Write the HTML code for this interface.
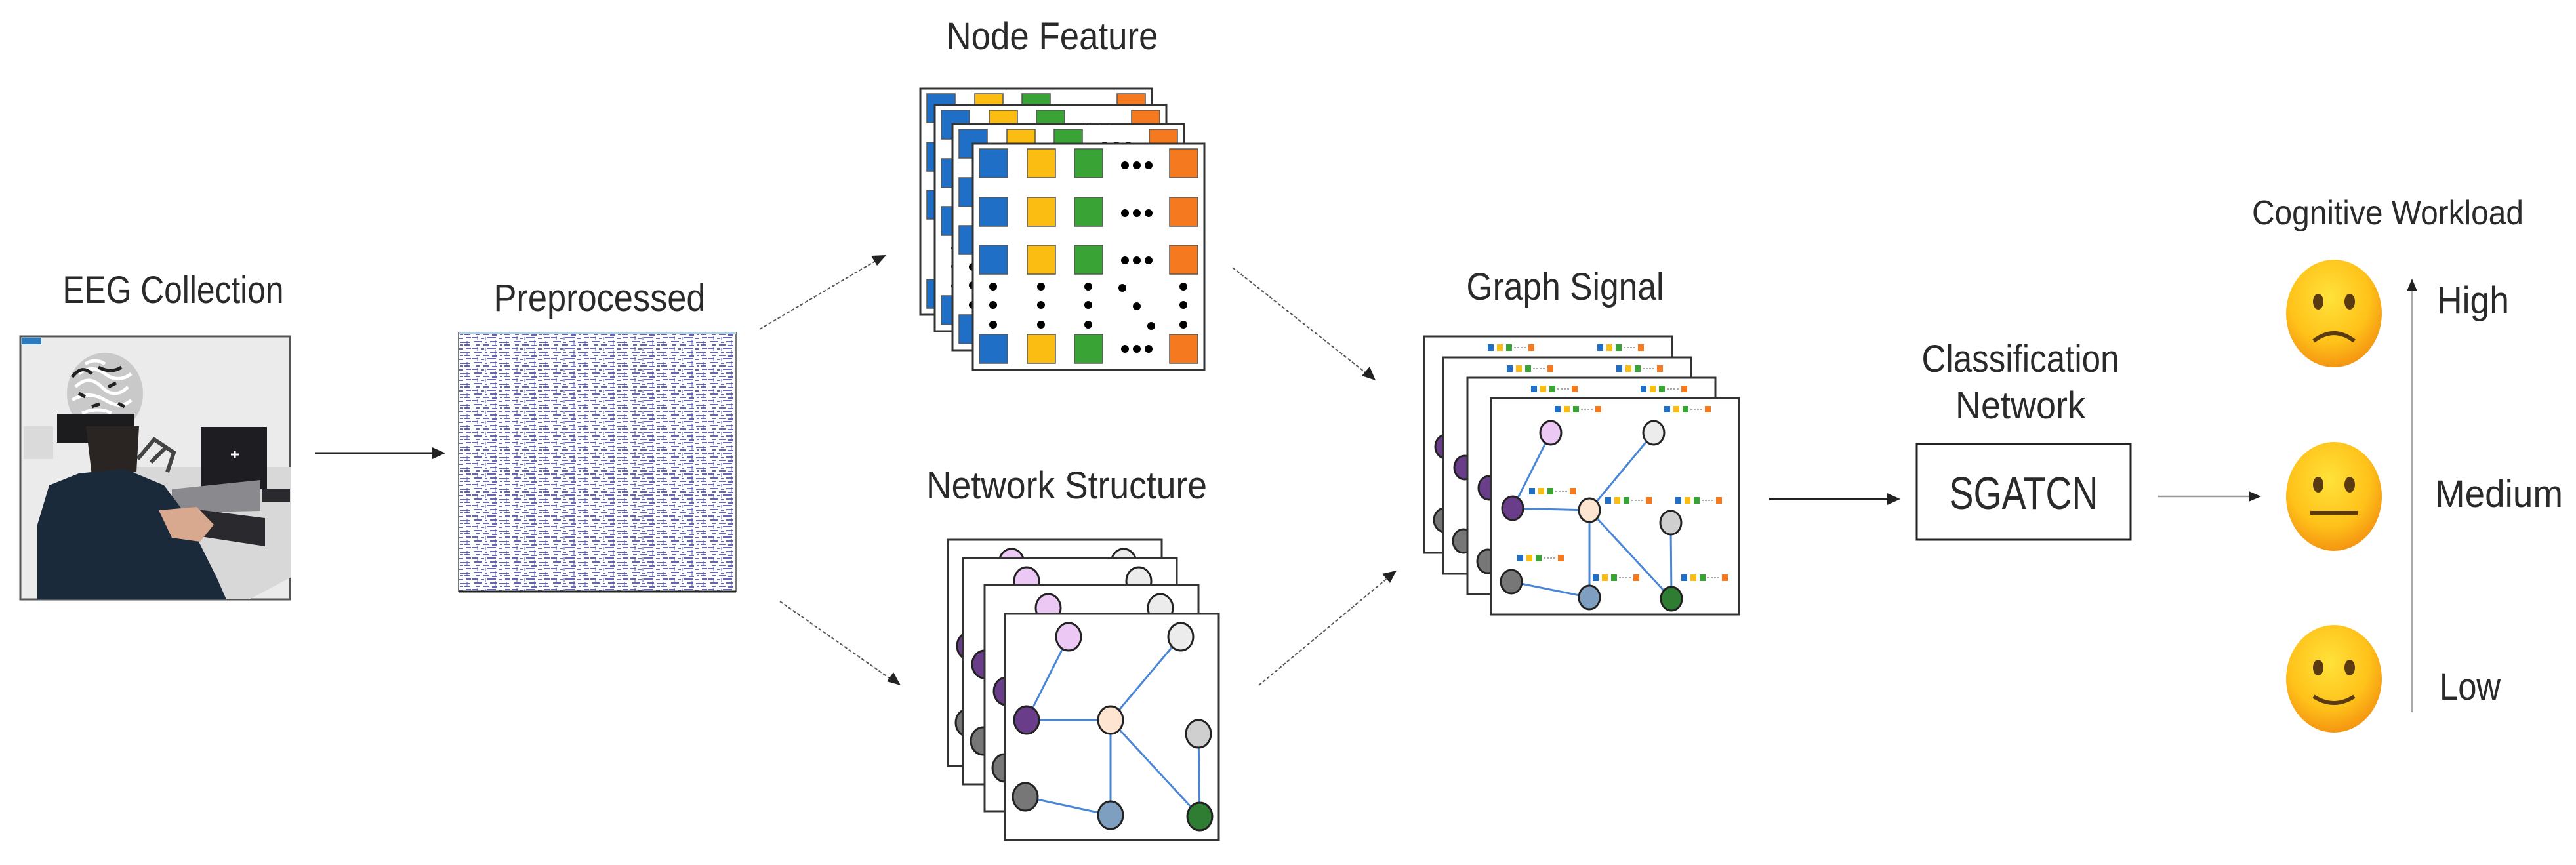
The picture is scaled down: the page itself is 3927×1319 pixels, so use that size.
<!DOCTYPE html>
<html><head><meta charset="utf-8"><style>
html,body{margin:0;padding:0;background:#fff;}
svg{display:block;}
text{font-family:"Liberation Sans",sans-serif;fill:#2a2a2a;}
</style></head><body>
<svg width="3927" height="1319" viewBox="0 0 3927 1319" xmlns="http://www.w3.org/2000/svg">
<defs>
<pattern id="eeg" width="60" height="16" patternUnits="userSpaceOnUse">
<rect width="60" height="16" fill="#fff"/>
<path d="M0 3 h9 M13 4 h5 M22 3 h14 M40 4 h6 M50 3 h8 M3 9 h12 M19 10 h4 M27 9 h10 M41 10 h15 M5 14 h6 M16 14 h10 M30 15 h8 M42 14 h4 M48 14 h9" stroke="#4a4aa8" stroke-width="2" opacity="0.85"/>
<path d="M8 1 v6 M35 6 v8 M52 8 v7 M20 2 v5" stroke="#4a4aa8" stroke-width="1.5" opacity="0.6"/>
</pattern>
<radialGradient id="face" cx="45%" cy="35%" r="70%">
<stop offset="0" stop-color="#ffe23a"/><stop offset="0.6" stop-color="#ffc21a"/><stop offset="1" stop-color="#f28c0f"/>
</radialGradient>
<g id="nf">
<rect x="0" y="0" width="353" height="345" fill="#fff" stroke="#333" stroke-width="3"/>
<g stroke="#555" stroke-width="1.5">
<rect x="10" y="8" width="43" height="44" fill="#1f6fc6"/><rect x="83" y="8" width="43" height="44" fill="#fbbd12"/><rect x="155" y="8" width="43" height="44" fill="#3aa336"/><rect x="300" y="8" width="43" height="44" fill="#f5791f"/>
<rect x="10" y="82" width="43" height="44" fill="#1f6fc6"/><rect x="83" y="82" width="43" height="44" fill="#fbbd12"/><rect x="155" y="82" width="43" height="44" fill="#3aa336"/><rect x="300" y="82" width="43" height="44" fill="#f5791f"/>
<rect x="10" y="155" width="43" height="44" fill="#1f6fc6"/><rect x="83" y="155" width="43" height="44" fill="#fbbd12"/><rect x="155" y="155" width="43" height="44" fill="#3aa336"/><rect x="300" y="155" width="43" height="44" fill="#f5791f"/>
<rect x="10" y="291" width="43" height="44" fill="#1f6fc6"/><rect x="83" y="291" width="43" height="44" fill="#fbbd12"/><rect x="155" y="291" width="43" height="44" fill="#3aa336"/><rect x="300" y="291" width="43" height="44" fill="#f5791f"/>
</g>
<g fill="#000">
<circle cx="232" cy="33" r="6"/><circle cx="250" cy="33" r="6"/><circle cx="268" cy="33" r="6"/>
<circle cx="232" cy="106" r="6"/><circle cx="250" cy="106" r="6"/><circle cx="268" cy="106" r="6"/>
<circle cx="232" cy="178" r="6"/><circle cx="250" cy="178" r="6"/><circle cx="268" cy="178" r="6"/>
<circle cx="232" cy="313" r="6"/><circle cx="250" cy="313" r="6"/><circle cx="268" cy="313" r="6"/>
<circle cx="31" cy="218" r="6"/><circle cx="31" cy="246" r="6"/><circle cx="31" cy="276" r="6"/>
<circle cx="104" cy="218" r="6"/><circle cx="104" cy="246" r="6"/><circle cx="104" cy="276" r="6"/>
<circle cx="176" cy="218" r="6"/><circle cx="176" cy="246" r="6"/><circle cx="176" cy="276" r="6"/>
<circle cx="228" cy="220" r="6"/><circle cx="250" cy="248" r="6"/><circle cx="272" cy="278" r="6"/>
<circle cx="321" cy="218" r="6"/><circle cx="321" cy="246" r="6"/><circle cx="321" cy="276" r="6"/>
</g>
</g>
<g id="ns">
<rect x="0" y="0" width="326" height="345" fill="#fff" stroke="#333" stroke-width="3"/>
<g stroke="#4a86d8" stroke-width="3">
<line x1="97" y1="35" x2="33" y2="162"/><line x1="33" y1="162" x2="161" y2="162"/><line x1="268" y1="35" x2="161" y2="162"/>
<line x1="161" y1="162" x2="161" y2="307"/><line x1="161" y1="162" x2="297" y2="309"/><line x1="295" y1="183" x2="297" y2="309"/><line x1="31" y1="279" x2="161" y2="307"/>
</g>
<g stroke="#222" stroke-width="3">
<ellipse cx="97" cy="35" rx="19" ry="21" fill="#ecc8f5"/><ellipse cx="268" cy="35" rx="19" ry="21" fill="#ececec"/>
<ellipse cx="33" cy="162" rx="19" ry="21" fill="#6a3d8a"/><ellipse cx="161" cy="162" rx="19" ry="21" fill="#fde5d2"/>
<ellipse cx="295" cy="183" rx="19" ry="21" fill="#cfcfcf"/><ellipse cx="31" cy="279" rx="19" ry="21" fill="#777"/>
<ellipse cx="161" cy="307" rx="19" ry="21" fill="#7e9fbf"/><ellipse cx="297" cy="309" rx="19" ry="21" fill="#2e7d32"/>
</g>
</g>
<g id="st">
<rect x="0" y="0" width="9" height="10" fill="#1f6fc6"/><rect x="14" y="0" width="9" height="10" fill="#fbbd12"/><rect x="28" y="0" width="9" height="10" fill="#3aa336"/>
<path d="M40 5 h20" stroke="#aaa" stroke-width="2" stroke-dasharray="3 2"/><rect x="62" y="0" width="9" height="10" fill="#f5791f"/>
</g>
<g id="gs">
<rect x="0" y="0" width="378" height="330" fill="#fff" stroke="#333" stroke-width="3"/>
<g stroke="#4a86d8" stroke-width="3">
<line x1="91" y1="53" x2="33" y2="168"/><line x1="33" y1="168" x2="150" y2="171"/><line x1="248" y1="53" x2="150" y2="171"/>
<line x1="150" y1="171" x2="150" y2="304"/><line x1="150" y1="171" x2="275" y2="306"/><line x1="274" y1="190" x2="275" y2="306"/><line x1="31" y1="280" x2="150" y2="304"/>
</g>
<g stroke="#222" stroke-width="3">
<ellipse cx="91" cy="53" rx="16" ry="18" fill="#ecc8f5"/><ellipse cx="248" cy="53" rx="16" ry="18" fill="#ececec"/>
<ellipse cx="33" cy="168" rx="16" ry="18" fill="#6a3d8a"/><ellipse cx="150" cy="171" rx="16" ry="18" fill="#fde5d2"/>
<ellipse cx="274" cy="190" rx="16" ry="18" fill="#cfcfcf"/><ellipse cx="31" cy="280" rx="16" ry="18" fill="#777"/>
<ellipse cx="150" cy="304" rx="16" ry="18" fill="#7e9fbf"/><ellipse cx="275" cy="306" rx="16" ry="18" fill="#2e7d32"/>
</g>
<use href="#st" x="97" y="12"/><use href="#st" x="264" y="12"/><use href="#st" x="58" y="137"/><use href="#st" x="174" y="151"/>
<use href="#st" x="281" y="151"/><use href="#st" x="40" y="239"/><use href="#st" x="155" y="269"/><use href="#st" x="290" y="269"/>
</g>
</defs>

<text x="264" y="462" font-size="58" text-anchor="middle" textLength="337" lengthAdjust="spacingAndGlyphs">EEG Collection</text>
<text x="914" y="474" font-size="58" text-anchor="middle" textLength="323" lengthAdjust="spacingAndGlyphs">Preprocessed</text>
<text x="1604" y="75" font-size="58" text-anchor="middle" textLength="323" lengthAdjust="spacingAndGlyphs">Node Feature</text>
<text x="1626" y="760" font-size="58" text-anchor="middle" textLength="428" lengthAdjust="spacingAndGlyphs">Network Structure</text>
<text x="2386" y="457" font-size="58" text-anchor="middle" textLength="301" lengthAdjust="spacingAndGlyphs">Graph Signal</text>
<text x="3080" y="567" font-size="58" text-anchor="middle" textLength="301" lengthAdjust="spacingAndGlyphs">Classification</text>
<text x="3080" y="638" font-size="58" text-anchor="middle" textLength="198" lengthAdjust="spacingAndGlyphs">Network</text>
<text x="3640" y="342" font-size="52" text-anchor="middle" textLength="414" lengthAdjust="spacingAndGlyphs">Cognitive Workload</text>
<text x="3715" y="478" font-size="58" textLength="110" lengthAdjust="spacingAndGlyphs">High</text>
<text x="3712" y="773" font-size="58" textLength="195" lengthAdjust="spacingAndGlyphs">Medium</text>
<text x="3719" y="1067" font-size="58" textLength="93" lengthAdjust="spacingAndGlyphs">Low</text>

<g>
<rect x="31" y="513" width="411" height="401" fill="#ebebec" stroke="#555" stroke-width="3"/>
<rect x="33" y="515" width="30" height="10" fill="#2a7bc0"/>
<polygon points="192,712 444,712 444,880 380,914 300,914 260,860 200,790" fill="#d8d8d8"/>
<rect x="306" y="651" width="101" height="95" fill="#1d1d22"/>
<path d="M352 693 h12 M358 687 v12" stroke="#fff" stroke-width="3"/>
<polygon points="262,746 397,732 397,779 262,782" fill="#8a8a8e"/>
<polygon points="286,775 404,790 404,833 286,815" fill="#2a2a2e"/>
<rect x="400" y="745" width="42" height="20" fill="#2a2a2e"/>
<path d="M210 700 l25 -30 l30 20 l-10 30 M230 705 l25 -25" stroke="#444" stroke-width="6" fill="none"/>
<ellipse cx="160" cy="600" rx="58" ry="62" fill="#c9c9c9"/>
<path d="M115 590 q20-20 40 0 t40 0 M110 610 q25-15 50 0 t40 0 M120 570 q20-15 40 0 t40 0 M125 630 q25-10 45 0 M130 555 q15-10 30 0" stroke="#fff" stroke-width="5" fill="none"/>
<path d="M110 575 q15-20 30-5 M150 560 q20 10 35 0 M120 600 l10 5 M165 590 l12 -6 M180 615 l10 5 M140 620 l12 -4" stroke="#222" stroke-width="5" fill="none"/>
<rect x="87" y="631" width="118" height="44" fill="#1c1c1f"/>
<polygon points="131,650 212,650 208,720 140,725" fill="#2a2522"/>
<rect x="36" y="650" width="45" height="50" fill="#dadada"/>
<polygon points="57,914 57,800 75,740 120,722 190,715 250,740 280,780 310,840 330,880 345,914" fill="#1a2a3a"/>
<polygon points="242,778 300,773 326,800 305,826 262,820" fill="#d9a98f"/>
</g>
<line x1="480" y1="691" x2="662" y2="691" stroke="#222" stroke-width="3"/>
<polygon points="679,691 659,682 659,700" fill="#222"/>

<rect x="699" y="507" width="423" height="395" fill="url(#eeg)"/>
<rect x="699" y="507" width="423" height="395" fill="none" stroke="#777" stroke-width="2"/>
<line x1="699" y1="508" x2="1122" y2="508" stroke="#b8d0e6" stroke-width="4"/>
<line x1="699" y1="902" x2="1122" y2="902" stroke="#222" stroke-width="3"/>

<g stroke="#555" stroke-width="2" stroke-dasharray="5 3" fill="none">
<line x1="1158" y1="502" x2="1338" y2="396"/>
<line x1="1189" y1="917" x2="1360" y2="1037"/>
<line x1="1879" y1="408" x2="2084" y2="570"/>
<line x1="1919" y1="1045" x2="2117" y2="880"/>
</g>
<polygon points="1351,389 1328,390 1337,405" fill="#222"/>
<polygon points="1373,1045 1362,1025 1352,1039" fill="#222"/>
<polygon points="2097,580 2088,559 2076,573" fill="#222"/>
<polygon points="2129,870 2107,875 2119,889" fill="#222"/>

<use href="#nf" x="1403" y="135"/><use href="#nf" x="1425" y="160"/><use href="#nf" x="1452" y="189"/><use href="#nf" x="1483" y="219"/>
<use href="#ns" x="1445" y="823"/><use href="#ns" x="1468" y="851"/><use href="#ns" x="1501" y="892"/><use href="#ns" x="1532" y="936"/>
<use href="#gs" x="2171" y="513"/><use href="#gs" x="2200" y="545"/><use href="#gs" x="2237" y="576"/><use href="#gs" x="2273" y="607"/>

<line x1="2697" y1="761" x2="2880" y2="761" stroke="#222" stroke-width="3"/>
<polygon points="2897,761 2877,752 2877,770" fill="#222"/>
<rect x="2922" y="677" width="326" height="146" fill="#fff" stroke="#222" stroke-width="3"/>
<text x="3085" y="776" font-size="70" text-anchor="middle" textLength="227" lengthAdjust="spacingAndGlyphs">SGATCN</text>
<line x1="3290" y1="757" x2="3432" y2="757" stroke="#999" stroke-width="2.5"/>
<polygon points="3447,757 3428,749 3428,765" fill="#222"/>

<g>
<ellipse cx="3558" cy="478" rx="73" ry="82" fill="url(#face)"/>
<ellipse cx="3534" cy="460" rx="8" ry="12" fill="#5a3a10"/><ellipse cx="3582" cy="460" rx="8" ry="12" fill="#5a3a10"/>
<path d="M3527 520 q31-24 62 0" stroke="#5a3a10" stroke-width="6" fill="none"/>
<ellipse cx="3558" cy="757" rx="73" ry="83" fill="url(#face)"/>
<ellipse cx="3534" cy="739" rx="8" ry="12" fill="#5a3a10"/><ellipse cx="3582" cy="739" rx="8" ry="12" fill="#5a3a10"/>
<line x1="3522" y1="782" x2="3594" y2="782" stroke="#5a3a10" stroke-width="6"/>
<ellipse cx="3558" cy="1035" rx="73" ry="82" fill="url(#face)"/>
<ellipse cx="3534" cy="1018" rx="8" ry="12" fill="#5a3a10"/><ellipse cx="3582" cy="1018" rx="8" ry="12" fill="#5a3a10"/>
<path d="M3527 1062 q31 20 62 0" stroke="#5a3a10" stroke-width="6" fill="none"/>
</g>
<line x1="3677" y1="1086" x2="3677" y2="440" stroke="#aaa" stroke-width="2.5"/>
<polygon points="3677,425 3669,444 3685,444" fill="#222"/>
</svg>
</body></html>
